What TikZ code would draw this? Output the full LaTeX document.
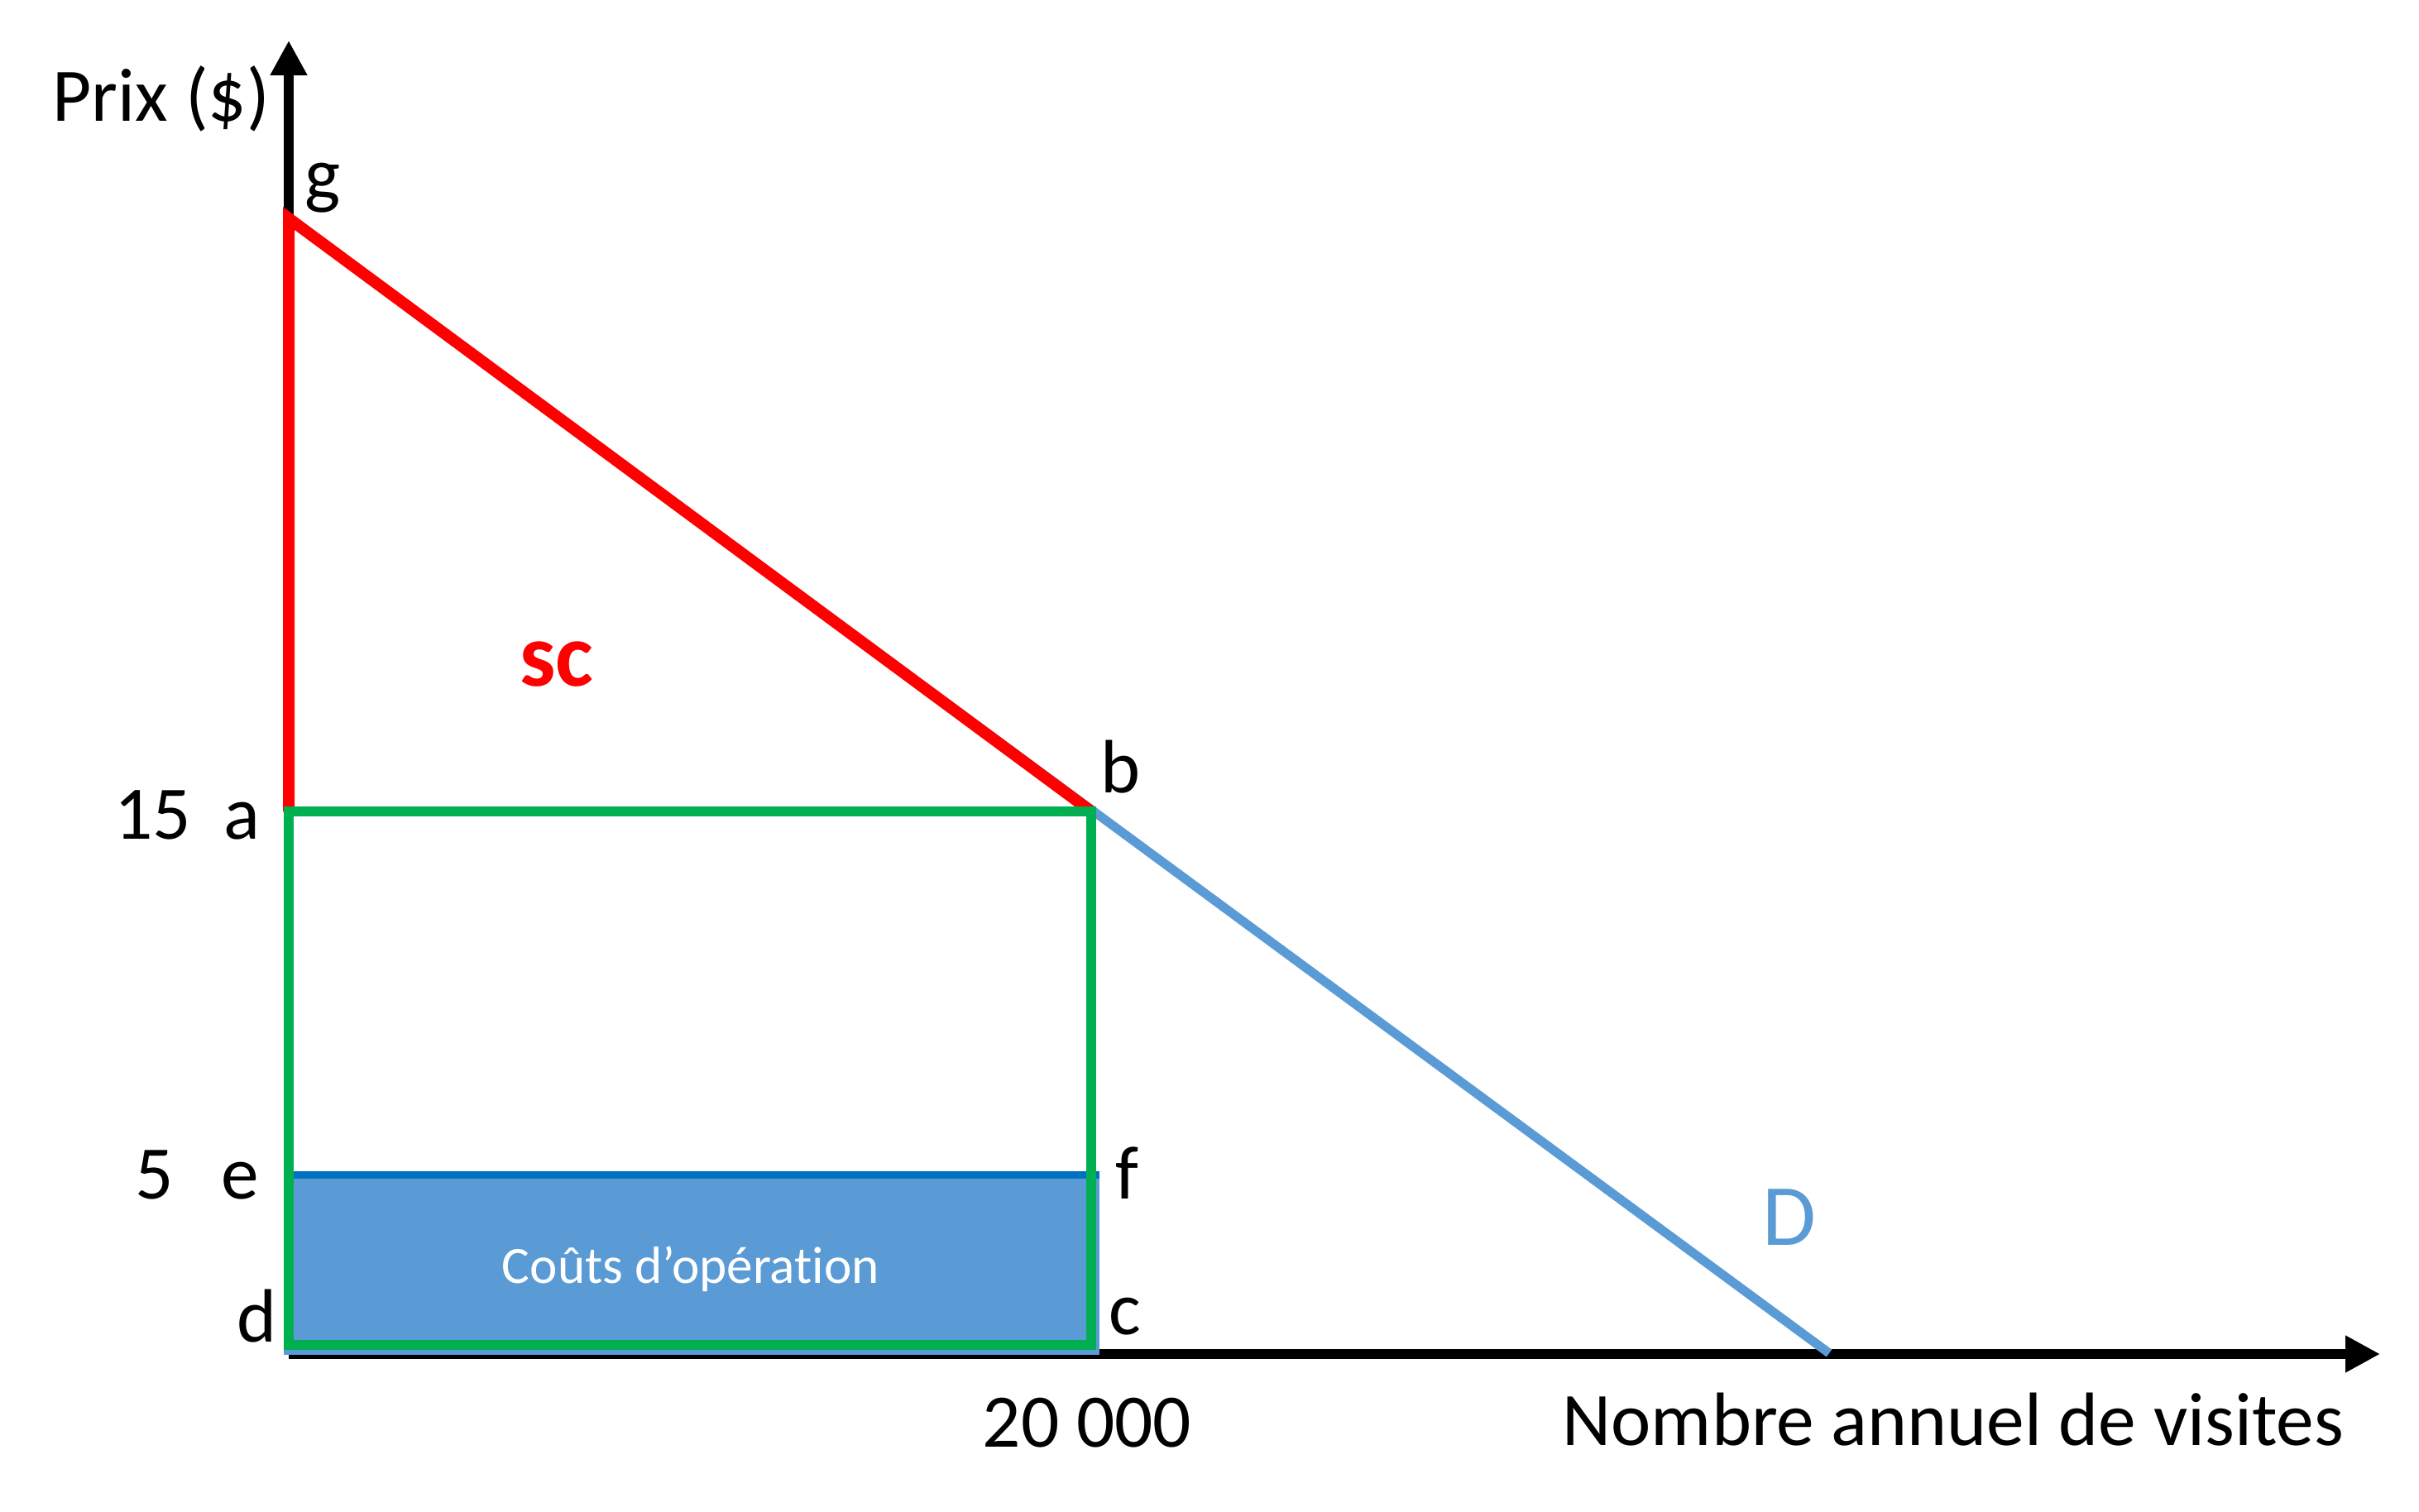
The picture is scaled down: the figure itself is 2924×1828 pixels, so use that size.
\documentclass[tikz,border=0pt]{standalone}
\usepackage{fontspec}
\setmainfont[Ligatures=NoCommon]{Carlito}
\usetikzlibrary{arrows.meta}
\definecolor{scred}{HTML}{FF0000}
\definecolor{rectgreen}{HTML}{00B050}
\definecolor{dblue}{HTML}{5B9BD5}
\definecolor{costblue}{HTML}{0070C0}
\begin{document}
\begin{tikzpicture}[x=0.01cm,y=-0.01cm,
    lbl/.style={inner sep=0pt,font=\fontsize{26}{30}\selectfont},
    axis/.style={line width=0.12cm,-{Triangle[length=0.42cm,width=0.42cm]}}]
  \useasboundingbox (0,0) rectangle (2924,1828);
  \path
    (349,1637) coordinate (O)
    (349,49) coordinate (ytip)
    (2877,1637) coordinate (xtip)
    (349,264) coordinate (g)
    (349,981) coordinate (a)
    (1319,981) coordinate (b)
    (1319,1626) coordinate (c)
    (349,1626) coordinate (d)
    (343,1420) coordinate (e)
    (1329,1420) coordinate (f)
    (1329,1638) coordinate (cf)
    (2211,1636) coordinate (Dend);
  \draw[axis] (O) -- (ytip);
  \draw[axis] (O) -- (xtip);
  \fill[dblue] (e) rectangle (cf);
  \draw[costblue,line width=0.09cm] (e) -- (f);
  \draw[dblue,line width=0.11cm] (g) -- (Dend);
  \draw[scred,line width=0.14cm] (a) -- (g) -- (b);
  \draw[rectgreen,line width=0.12cm] (a) rectangle (c);
  \node[lbl,anchor=base west] (prix) at (63,147) {Prix (\$)};
  \node[lbl,anchor=base west] (lg) at (368,242) {g};
  \node[inner sep=0pt,font=\bfseries\fontsize{31}{36}\selectfont,text=scred,anchor=base] (sc) at (673,830) {sc};
  \node[lbl,anchor=base west] (lb) at (1330,958) {b};
  \node[lbl,anchor=base east] (p15) at (232,1014) {15};
  \node[lbl,anchor=base west] (la) at (270,1014) {a};
  \node[lbl,anchor=base east] (p5) at (211,1449) {5};
  \node[lbl,anchor=base west] (le) at (267,1449) {e};
  \node[lbl,anchor=base west] (lf) at (1348,1449) {f};
  \node[lbl,anchor=base west] (ld) at (286,1622) {d};
  \node[lbl,anchor=base west] (lc) at (1340,1613) {c};
  \node[inner sep=0pt,font=\fontsize{18}{22}\selectfont,text=white,anchor=base] (cout) at (835,1551) {Coûts d’opération};
  \node[lbl,anchor=base] (q20) at (1314,1749) {20 000};
  \node[lbl,anchor=base west] (xlab) at (1888,1747) {Nombre annuel de visites};
  \node[inner sep=0pt,font=\fontsize{30}{36}\selectfont,text=dblue,anchor=base west] (lD) at (2130,1505) {D};
\end{tikzpicture}
\end{document}
